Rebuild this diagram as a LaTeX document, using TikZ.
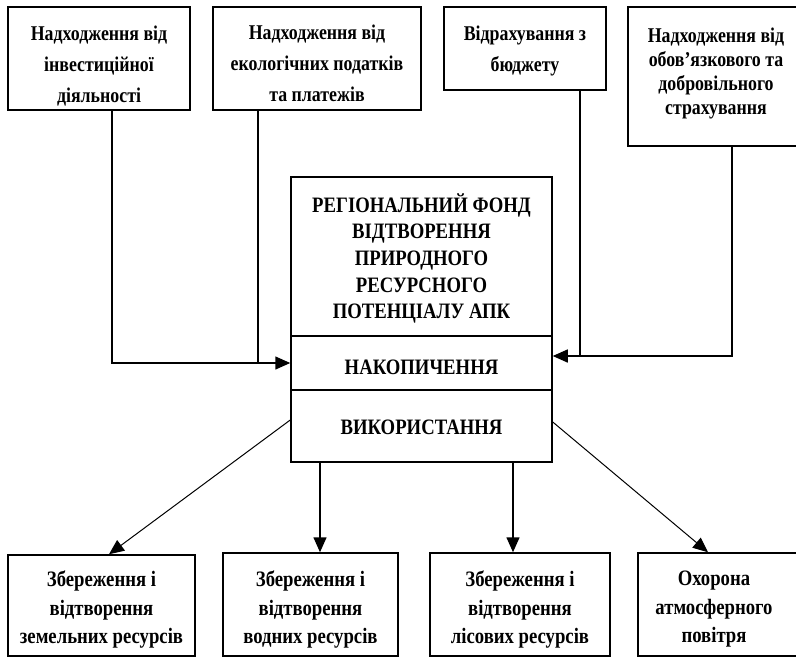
\documentclass[tikz,border=0pt]{standalone}
\usepackage{fontspec}
\setmainfont{Liberation Serif}[FakeStretch=0.85]
\usetikzlibrary{arrows.meta}
\begin{document}
\begin{tikzpicture}[x=1pt,y=-1pt,
  box/.style={draw, line width=1.5pt, inner sep=0pt},
  txt/.style={align=center, inner sep=0pt},
  topfont/.style={txt, font=\bfseries\fontsize{21}{31}\selectfont},
  midfont/.style={txt, font=\bfseries\fontsize{22}{26.7}\selectfont},
  botfont/.style={txt, font=\bfseries\fontsize{22}{28.5}\selectfont},
  conn/.style={line width=1.5pt},
  arr/.style={conn, -{Triangle[length=15pt,width=13pt]}},
  darr/.style={line width=1pt, -{Triangle[length=15pt,width=13pt]}}]
\clip (0,0) rectangle (796,657);
% top source boxes
\node[box, minimum width=182pt, minimum height=103pt] (b1) at (99,58.5) {};
\node[topfont] (b1t) at ([yshift=-7.5pt]b1.center)
  {Надходження від\\інвестиційної\\діяльності};
\node[box, minimum width=208pt, minimum height=103pt] (b2) at (317,58.5) {};
\node[topfont] (b2t) at ([yshift=-5pt]b2.center)
  {Надходження від\\екологічних податків\\та платежів};
\node[box, minimum width=162pt, minimum height=83pt] (b3) at (525,48.5) {};
\node[topfont] (b3t) at ([yshift=-2pt]b3.center)
  {Відрахування з\\бюджету};
\node[box, minimum width=176pt, minimum height=139pt] (b4) at (716,76.5) {};
\node[txt, font=\bfseries\fontsize{21}{24}\selectfont] (b4t) at ([yshift=3pt]b4.center)
  {Надходження від\\обов’язкового та\\добровільного\\страхування};
% central fund
\node[box, minimum width=261pt, minimum height=159pt] (fund) at (421.5,256.5) {};
\node[midfont] (fundt) at ([yshift=-2pt]fund.center)
  {РЕГІОНАЛЬНИЙ ФОНД\\ВІДТВОРЕННЯ\\ПРИРОДНОГО\\РЕСУРСНОГО\\ПОТЕНЦІАЛУ АПК};
\node[box, minimum width=261pt, minimum height=54pt] (nak) at (421.5,363) {};
\node[midfont] (nakt) at ([yshift=-4pt]nak.center) {НАКОПИЧЕННЯ};
\node[box, minimum width=261pt, minimum height=72pt] (vyk) at (421.5,426) {};
\node[midfont] (vykt) at ([yshift=-1pt]vyk.center) {ВИКОРИСТАННЯ};
% bottom boxes
\node[box, minimum width=187pt, minimum height=101pt] (bA) at (101.5,605.5) {};
\node[botfont] (bAt) at ([yshift=-4pt]bA.center)
  {Збереження і\\відтворення\\земельних ресурсів};
\node[box, minimum width=175pt, minimum height=103pt] (bB) at (310.5,604.5) {};
\node[botfont] (bBt) at ([yshift=-5pt]bB.center)
  {Збереження і\\відтворення\\водних ресурсів};
\node[box, minimum width=180pt, minimum height=103pt] (bC) at (520,604.5) {};
\node[botfont] (bCt) at ([yshift=-5pt]bC.center)
  {Збереження і\\відтворення\\лісових ресурсів};
\node[box, minimum width=166pt, minimum height=103pt] (bD) at (721,604.5) {};
\node[botfont] (bDt) at ([xshift=-7pt,yshift=-5pt]bD.center)
  {Охорона\\атмосферного\\повітря};
% inflows
\coordinate (lin) at (nak.west);
\coordinate (rin) at ([yshift=7pt]nak.east);
\draw[arr] ([xshift=13pt]b1.south) |- (lin);
\draw[conn] ([xshift=-59pt]b2.south) -- ([xshift=-59pt]b2.south |- lin);
\draw[arr] ([xshift=16pt]b4.south) |- (rin);
\draw[conn] ([xshift=55pt]b3.south) -- ([xshift=55pt]b3.south |- rin);
% outflows
\draw[darr] ([yshift=6pt]vyk.west) -- ([xshift=7.5pt]bA.north);
\draw[arr] ([xshift=-101.5pt]vyk.south) -- ([xshift=-101.5pt]vyk.south |- bB.north);
\draw[arr] ([xshift=91.5pt]vyk.south) -- ([xshift=91.5pt]vyk.south |- bC.north);
\draw[darr] ([yshift=4pt]vyk.east) -- ([xshift=-13pt]bD.north);
\end{tikzpicture}
\end{document}
